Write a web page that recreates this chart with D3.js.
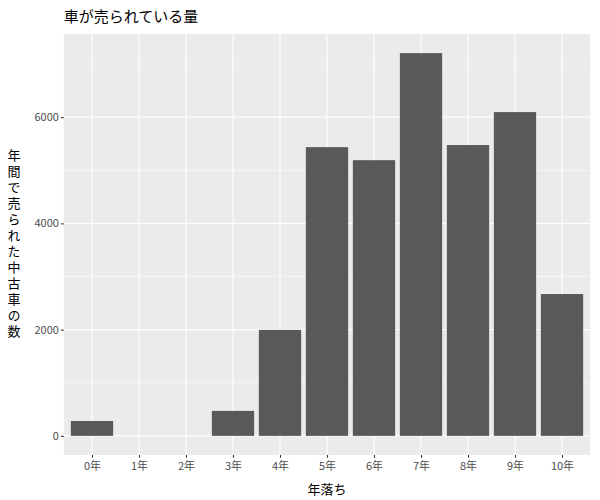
<!DOCTYPE html>
<html><head><meta charset="utf-8">
<script src="https://cdn.jsdelivr.net/npm/d3@7"></script>
<style>body{margin:0;background:#fff}svg{display:block}</style>
</head><body>
<svg id="c" width="600" height="500"></svg>
<script>
const categories = ["0年","1年","2年","3年","4年","5年","6年","7年","8年","9年","10年"];
const values = [280, 0, 0, 470, 1995, 5435, 5190, 7205, 5475, 6095, 2670];
const yTicks = [0, 2000, 4000, 6000];
const yMinor = [1000, 3000, 5000, 7000];
const titleText = "車が売られている量";
const xTitle = "年落ち";
const yTitle = "年間で売られた中古車の数";

const font = "'Noto Sans CJK JP', 'Noto Sans', sans-serif";
const svg = d3.select("#c");
const L = 63.8, R = 590.2, T = 34, B = 455;
const n = categories.length;
const step = (R - L) / (n - 1 + 1.2);
const x = d3.scalePoint().domain(categories).range([L + 0.6*step, R - 0.6*step]);
const bw = step * 0.9;
const ymax = d3.max(values);
const y = d3.scaleLinear().domain([-0.05*ymax, 1.05*ymax]).range([B, T]);

svg.append("rect").attr("x", L).attr("y", T).attr("width", R-L).attr("height", B-T).attr("fill", "#EBEBEB");
const g = svg.append("g");
g.selectAll("line.mn").data(yMinor).join("line")
  .attr("x1", L).attr("x2", R).attr("y1", d=>y(d)).attr("y2", d=>y(d))
  .attr("stroke", "#fff").attr("stroke-width", 0.55);
g.selectAll("line.mj").data(yTicks).join("line")
  .attr("x1", L).attr("x2", R).attr("y1", d=>y(d)).attr("y2", d=>y(d))
  .attr("stroke", "#fff").attr("stroke-width", 1.1);
g.selectAll("line.vx").data(categories).join("line")
  .attr("y1", T).attr("y2", B).attr("x1", d=>x(d)).attr("x2", d=>x(d))
  .attr("stroke", "#fff").attr("stroke-width", 1.1);

g.selectAll("rect.bar").data(categories).join("rect")
  .attr("x", d=>x(d)-bw/2).attr("width", bw)
  .attr("y", (d,i)=>y(values[i])).attr("height", (d,i)=>y(0)-y(values[i]))
  .attr("fill", "#595959");

// axes
const yAxis = d3.axisLeft(y).tickValues(yTicks).tickFormat(d3.format("d")).tickSize(2.75).tickPadding(2.2);
const ya = svg.append("g").attr("transform", `translate(${L},0)`).call(yAxis);
const xAxis = d3.axisBottom(x).tickSize(2.75).tickPadding(2.2);
const xa = svg.append("g").attr("transform", `translate(0,${B})`).call(xAxis);
[ya, xa].forEach(a=>{
  a.select(".domain").remove();
  a.selectAll(".tick line").attr("stroke", "#333333").attr("stroke-width", 1.1);
  a.selectAll(".tick text").attr("fill", "#4D4D4D").attr("font-size", 11).attr("font-family", font);
});
xa.selectAll(".tick text").attr("dy", "0.9em");

svg.append("text").attr("x", L).attr("y", 22).text(titleText)
  .attr("font-family", font).attr("font-size", 15).attr("fill", "#000");
svg.append("text").attr("x", (L+R)/2).attr("y", 494).attr("text-anchor", "middle").text(xTitle)
  .attr("font-family", font).attr("font-size", 13).attr("fill", "#000");
svg.append("text").attr("x", 14).attr("y", (T+B)/2)
  .attr("text-anchor", "middle").text(yTitle)
  .style("writing-mode", "vertical-rl").style("text-orientation", "upright")
  .attr("letter-spacing", 3)
  .attr("font-family", font).attr("font-size", 13).attr("fill", "#000");
</script>
</body></html>
